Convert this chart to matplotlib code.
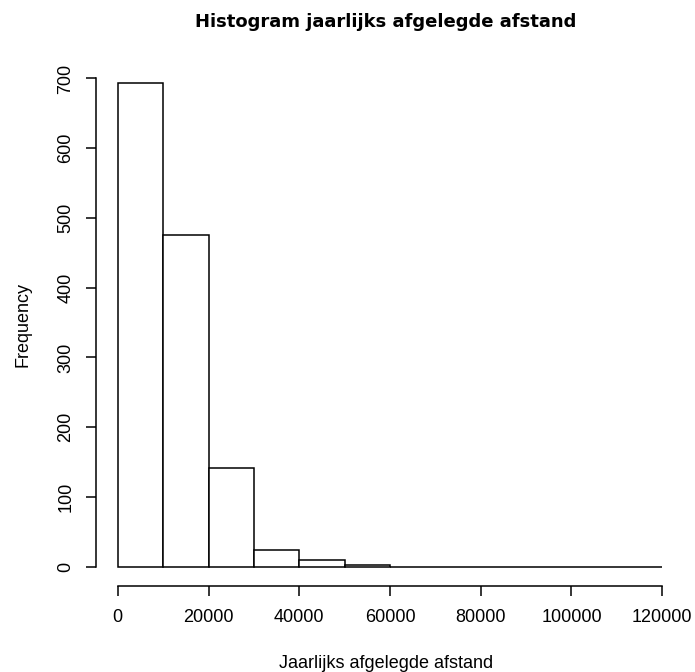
import matplotlib.pyplot as plt
import numpy as np

# klassegrenzen en aantallen per klasse
grenzen = np.arange(0, 130000, 10000)
aantallen = [693, 476, 142, 24, 9, 2, 0, 0, 0, 0, 0, 0]

xticks = [0, 20000, 40000, 60000, 80000, 100000, 120000]
yticks = [0, 100, 200, 300, 400, 500, 600, 700]

plt.rcParams['font.family'] = ['Liberation Sans', 'DejaVu Sans']

fig = plt.figure(figsize=(6.95, 6.72), dpi=100)
ax = fig.add_axes([96 / 695, 1 - 586 / 672, 588 / 695, 522 / 672])

ax.bar(grenzen[:-1], aantallen, width=10000, align='edge',
       facecolor='white', edgecolor='black', linewidth=1.1)

# zoals R: 4% extra ruimte rond het bereik
ax.set_xlim(-4800, 124800)
ax.set_ylim(-693 * 0.04, 693 * 1.04)

for s in ['top', 'right']:
    ax.spines[s].set_visible(False)
ax.spines['left'].set_bounds(0, 700)
ax.spines['bottom'].set_bounds(0, 120000)
ax.spines['left'].set_linewidth(1.1)
ax.spines['bottom'].set_linewidth(1.1)

ax.set_xticks(xticks)
ax.set_xticklabels([str(v) for v in xticks])
ax.set_yticks(yticks)
ax.set_yticklabels([str(v) for v in yticks], rotation=90, va='center')
ax.tick_params(length=7.5, width=1.1, labelsize=13)
ax.tick_params(axis='x', pad=9)
ax.tick_params(axis='y', pad=8)

fig.text(386 / 695, 1 - 664 / 672, 'Jaarlijks afgelegde afstand',
         ha='center', va='center', fontsize=13)
fig.text(23 / 695, 1 - 325 / 672, 'Frequency', rotation=90,
         ha='center', va='center', fontsize=13)
fig.text(386 / 695, 1 - 22 / 672, 'Histogram jaarlijks afgelegde afstand',
         ha='center', va='center', fontsize=13, fontweight='bold',
         family='DejaVu Sans')

fig.savefig('out.png', dpi=100)
